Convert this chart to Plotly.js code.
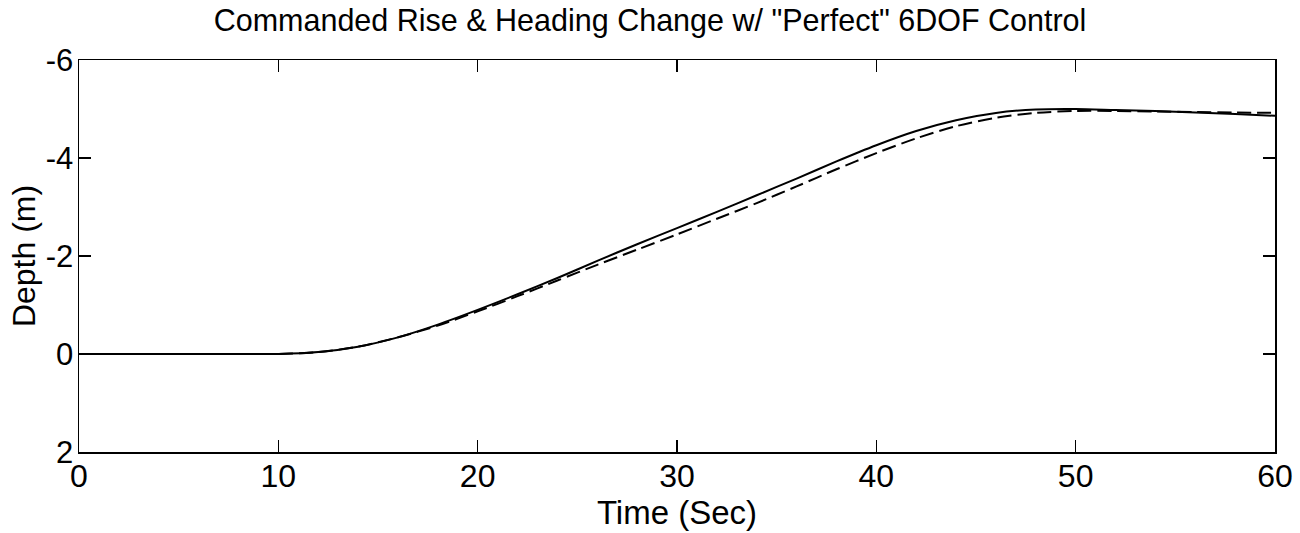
<!DOCTYPE html>
<html>
<head>
<meta charset="utf-8">
<script src="https://cdn.plot.ly/plotly-3.0.1.min.js"></script>
<style>html,body{margin:0;padding:0;background:#fff;}#chart{width:1300px;height:533px;}</style>
</head>
<body>
<div id="chart"></div>
<script>
const timeSec = [0,2,4,6,8,10,12,14,16,18,20,22,24,26,28,30,32,34,36,38,40,42,44,46,48,50,52,54,56,58,60];
const depthActual = [0,0,0,0,0,0,-0.04,-0.15,-0.34,-0.6,-0.9,-1.22,-1.55,-1.9,-2.24,-2.57,-2.9,-3.24,-3.58,-3.93,-4.26,-4.55,-4.77,-4.92,-4.99,-5.0,-4.98,-4.96,-4.93,-4.9,-4.86];
const depthCommanded = [0,0,0,0,0,0,-0.04,-0.15,-0.34,-0.58,-0.87,-1.18,-1.5,-1.82,-2.13,-2.44,-2.76,-3.08,-3.42,-3.77,-4.1,-4.4,-4.65,-4.82,-4.92,-4.96,-4.96,-4.95,-4.94,-4.93,-4.92];
const xTicks = [0,10,20,30,40,50,60];
const yTicks = [-6,-4,-2,0,2];

const fontFam = 'Liberation Sans, Arial, Helvetica, sans-serif';
const traces = [
  {x: timeSec, y: depthActual, mode: 'lines', line: {color: '#000', width: 2, shape: 'spline', smoothing: 0.8}, showlegend: false},
  {x: timeSec, y: depthCommanded, mode: 'lines', line: {color: '#000', width: 2, dash: '14px,6px', shape: 'spline', smoothing: 0.8}, showlegend: false}
];
const axisCommon = {showline: true, linecolor: '#000', linewidth: 1.5, mirror: 'ticks', ticks: 'inside', ticklen: 12, tickcolor: '#000', tickwidth: 1.2, showgrid: false, zeroline: false};
const layout = {
  width: 1300, height: 533,
  margin: {l: 79, r: 25, t: 60, b: 81},
  paper_bgcolor: '#fff', plot_bgcolor: '#fff',
  title: {text: 'Commanded Rise &amp; Heading Change w/ "Perfect" 6DOF Control', font: {family: fontFam, size: 30.5, color: '#000'}, x: 0.5, xanchor: 'center', y: 0.962, yanchor: 'middle'},
  xaxis: Object.assign({}, axisCommon, {range: [0, 60], tickvals: xTicks, ticktext: xTicks.map(String), tickfont: {family: fontFam, size: 32, color: '#000'}, ticklabelstandoff: -5, title: {text: 'Time (Sec)', font: {family: fontFam, size: 33, color: '#000'}, standoff: 0}}),
  yaxis: Object.assign({}, axisCommon, {range: [2, -6], tickvals: yTicks, ticktext: yTicks.map(String), tickfont: {family: fontFam, size: 31, color: '#000'}, ticklabelstandoff: -2, title: {text: 'Depth (m)', font: {family: fontFam, size: 32, color: '#000'}, standoff: 0}}),
  showlegend: false
};
Plotly.newPlot('chart', traces, layout, {staticPlot: true, displayModeBar: false});
</script>
</body>
</html>
